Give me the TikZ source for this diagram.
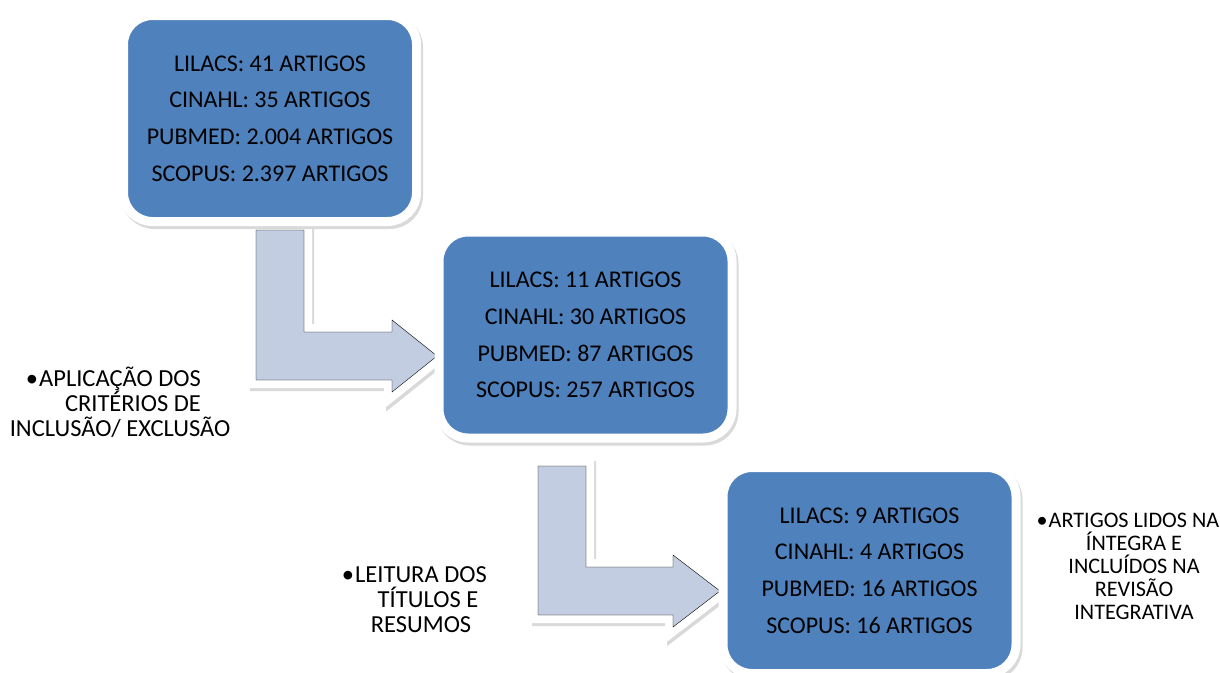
\documentclass[tikz,border=0pt]{standalone}
\usepackage{fontspec}
\setmainfont{Carlito}
\definecolor{boxblue}{HTML}{4F81BD}
\definecolor{arrowfill}{HTML}{C3CDE1}
\definecolor{shadowgray}{HTML}{D9D9D9}
\begin{document}
\begin{tikzpicture}[x=1pt,y=-1pt,
  stagebox/.style={rounded corners=29pt, fill=boxblue, draw=white, line width=9pt,
    minimum width=293pt, minimum height=206pt, inner sep=0pt, align=center,
    font=\fontsize{24}{36.7}\selectfont,
    preaction={draw=shadowgray, fill=shadowgray, transform canvas={xshift=2pt,yshift=-3pt}}},
  bendarrow/.style={fill=arrowfill, line join=miter,
    preaction={draw=shadowgray, fill=shadowgray, line width=16pt, line join=miter, transform canvas={xshift=2pt,yshift=-3pt}},
    preaction={draw=white, line width=16pt, line join=miter}},
  sidenote/.style={align=center, inner sep=0pt, font=\fontsize{24.5}{25}\selectfont},
  sidenotesmall/.style={align=center, inner sep=0pt, font=\fontsize{22.2}{23}\selectfont}]
\useasboundingbox[fill=white] (0,0) rectangle (1220,672);

% bent arrows (drawn below the boxes)
\draw[bendarrow] (256,230) -- (304,230) -- (304,332) -- (392,332) -- (392,320)
  -- (437,356) -- (392,392) -- (392,380) -- (256,380) -- cycle;
\draw[bendarrow] (538,466) -- (586,466) -- (586,567) -- (673,567) -- (673,555)
  -- (720,591) -- (673,627) -- (673,615) -- (538,615) -- cycle;

% stage boxes
\node[stagebox] (b1) at (270,118.5) {LILACS: 41 ARTIGOS\\CINAHL: 35 ARTIGOS\\PUBMED: 2.004 ARTIGOS\\SCOPUS: 2.397 ARTIGOS};
\node[stagebox] (b2) at (585.5,335) {LILACS: 11 ARTIGOS\\CINAHL: 30 ARTIGOS\\PUBMED: 87 ARTIGOS\\SCOPUS: 257 ARTIGOS};
\node[stagebox] (b3) at (869.5,570.5) {LILACS: 9 ARTIGOS\\CINAHL: 4 ARTIGOS\\PUBMED: 16 ARTIGOS\\SCOPUS: 16 ARTIGOS};

% side notes
\node[sidenote] (n1) at (120,402) {\llap{\textbullet\kern1pt}APLICAÇÃO DOS\\\hspace*{26pt}CRITÉRIOS DE\\INCLUSÃO/ EXCLUSÃO};
\node[sidenote] (n2) at (421,600) {\llap{\textbullet\kern1pt}LEITURA DOS\\\hspace*{14pt}TÍTULOS E\\RESUMOS};
\node[sidenotesmall] (n3) at (1134,566) {\llap{\textbullet\kern1pt}ARTIGOS LIDOS NA\\ÍNTEGRA E\\INCLUÍDOS NA\\REVISÃO\\INTEGRATIVA};
\end{tikzpicture}
\end{document}
